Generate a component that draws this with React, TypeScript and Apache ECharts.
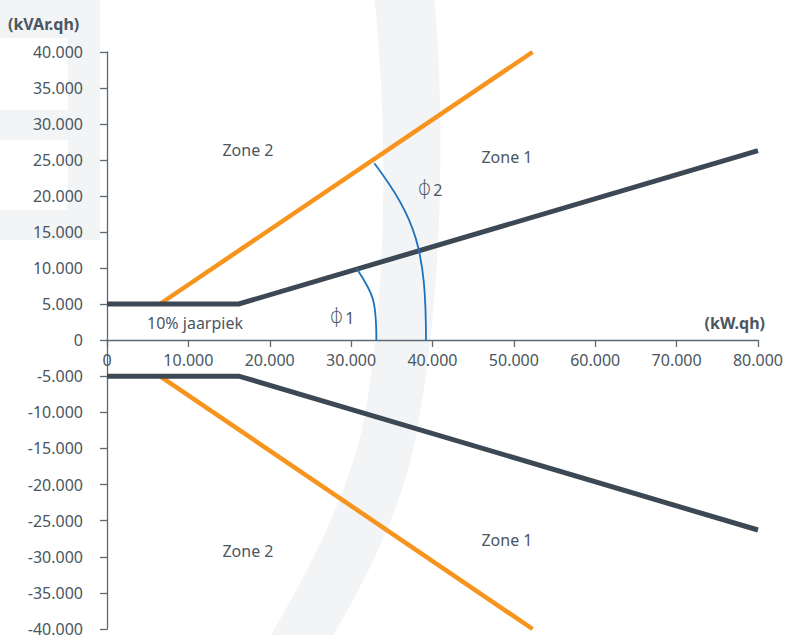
import React, { useEffect, useRef } from "react";
import * as echarts from "echarts";

// ---- data ----
const xTicks = { min: 0, max: 80000, interval: 10000 };
const yUpperTicks = { min: 0, max: 40000, interval: 5000 };
const yLowerTicks = { min: -40000, max: 0, interval: 5000 };

const grayUpperX = [0, 16200, 80000];
const grayUpperY = [5000, 5000, 26300];
const grayLowerX = [0, 16200, 80000];
const grayLowerY = [-5000, -5000, -26300];
const orangeUpperX = [6500, 52300];
const orangeUpperY = [5000, 40000];
const orangeLowerX = [6500, 52300];
const orangeLowerY = [-5000, -40000];

// angle arcs: start on x axis, end on the line (data coords)
const phi1Start = [33100, 0];
const phi1End = [30700, 9900];
const phi2Start = [39200, 0];
const phi2End = [32850, 24550];

const labelsText = {
  yName: "(kVAr.qh)",
  xName: "(kW.qh)",
  zone1: "Zone 1",
  zone2: "Zone 2",
  peak: "10% jaarpiek",
  phi: "\u03D5",
  one: "1",
  two: "2",
};

const zip = (xs: number[], ys: number[]) => xs.map((x, i) => [x, ys[i]]);

const fmt = (v: number) => {
  const s = Math.abs(v)
    .toString()
    .replace(/\B(?=(\d{3})+(?!\d))/g, ".");
  return (v < 0 ? "-" : "") + s;
};

const WATERMARK_D =
  "M374 -5 C388 120 388 300 362 430 C345 500 310 570 262 650 L325 650 C372 570 405 500 417 430 C442 300 446 120 434 -5 Z";

let registered = false;

export default function App() {
  const ref = useRef<HTMLDivElement>(null);

  useEffect(() => {
    document.body.style.margin = "0";
    if (!registered) {
      echarts.graphic.registerShape("logo", echarts.graphic.extendPath(WATERMARK_D, {}) as any);
      registered = true;
    }
    const chart = echarts.init(ref.current!, null, { renderer: "svg" });
    const textColor = "#4a5661";
    const axisColor = "#5d6973";
    const gray = "#3c4954";
    const orange = "#f7941d";
    const blue = "#1b72bd";
    const font = "'Noto Sans', 'Open Sans', sans-serif";
    const fs = 16;

    const lineSeries = (data: number[][], color: string, width: number, idx: number) => ({
      type: "line",
      data,
      xAxisIndex: idx,
      yAxisIndex: idx,
      symbol: "none",
      silent: true,
      clip: false,
      lineStyle: { color, width, cap: "butt", join: "miter" },
      z: 3,
    });

    const axisLine = { show: true, onZero: false, lineStyle: { color: axisColor, width: 1.3 } };
    const axisTick = { show: true, length: 7, lineStyle: { color: axisColor, width: 1.3 } };
    const yLabel = (showMax: boolean) => ({
      color: textColor,
      fontSize: fs,
      fontFamily: font,
      margin: 24,
      showMaxLabel: showMax,
      formatter: (v: number) => fmt(v),
    });

    chart.setOption({
      animation: false,
      backgroundColor: "#ffffff",
      grid: [
        { left: 107, right: 29, top: 52, bottom: 295, containLabel: false, outerBoundsMode: "none" },
        { left: 107, right: 29, top: 340, bottom: 6, containLabel: false, outerBoundsMode: "none" },
      ],
      xAxis: [
        {
          type: "value",
          gridIndex: 0,
          position: "bottom",
          min: xTicks.min,
          max: xTicks.max,
          interval: xTicks.interval,
          axisLine,
          axisTick,
          axisLabel: {
            color: textColor,
            fontSize: fs,
            fontFamily: font,
            margin: 12,
            formatter: (v: number) => fmt(v),
          },
          splitLine: { show: false },
        },
        {
          type: "value",
          gridIndex: 1,
          min: xTicks.min,
          max: xTicks.max,
          interval: xTicks.interval,
          show: false,
        },
      ],
      yAxis: [
        {
          type: "value",
          gridIndex: 0,
          min: yUpperTicks.min,
          max: yUpperTicks.max,
          interval: yUpperTicks.interval,
          axisLine,
          axisTick,
          axisLabel: yLabel(true),
          splitLine: { show: false },
        },
        {
          type: "value",
          gridIndex: 1,
          min: yLowerTicks.min,
          max: yLowerTicks.max,
          interval: yLowerTicks.interval,
          axisLine,
          axisTick,
          axisLabel: yLabel(false),
          splitLine: { show: false },
        },
      ],
      series: [
        lineSeries(zip(orangeUpperX, orangeUpperY), orange, 4.5, 0),
        lineSeries(zip(orangeLowerX, orangeLowerY), orange, 4.5, 1),
        lineSeries(zip(grayUpperX, grayUpperY), gray, 5, 0),
        lineSeries(zip(grayLowerX, grayLowerY), gray, 5, 1),
      ],
    });

    const px = (p: number[]) => chart.convertToPixel({ gridIndex: 0 }, p) as number[];
    const arc = (s: number[], e: number[], c1: number[], c2: number[]) => {
      const a = px(s);
      const b = px(e);
      return {
        type: "bezierCurve",
        z: 4,
        silent: true,
        shape: {
          x1: a[0],
          y1: a[1],
          cpx1: a[0] + c1[0],
          cpy1: a[1] + c1[1],
          cpx2: b[0] + c2[0],
          cpy2: b[1] + c2[1],
          x2: b[0],
          y2: b[1],
        },
        style: { stroke: blue, lineWidth: 1.8, fill: "none" },
      };
    };
    const txt = (text: string, x: number, y: number, bold = false, align = "center", rich?: any) => ({
      type: "text",
      x,
      y,
      z: 5,
      silent: true,
      style: {
        text,
        fill: textColor,
        font: `${bold ? "bold " : ""}${fs}px ${font}`,
        textAlign: align,
        textVerticalAlign: "middle",
        align,
        verticalAlign: "middle",
        rich,
      },
    });
    const phiRich = {
      p: { fontSize: 21, fontFamily: "'DejaVu Sans', sans-serif", fill: textColor, color: textColor, fontWeight: 200 },
      n: { fontSize: fs, fontFamily: font, fill: textColor, color: textColor, padding: [3, 0, 0, 2] },
    };

    const bg = "#f3f4f6";
    const rect = (x: number, y: number, w: number, h: number) => ({
      type: "rect",
      z: -100,
      silent: true,
      shape: { x, y, width: w, height: h },
      style: { fill: bg },
    });

    chart.setOption({
      graphic: [
        rect(0, 0, 100, 38),
        rect(68, 0, 32, 240),
        rect(0, 110, 100, 30),
        rect(0, 210, 100, 30),
        { type: "logo", x: 0, y: 0, scaleX: 1, scaleY: 1, z: -100, silent: true, style: { fill: bg } },
        arc(phi1Start, phi1End, [0, -40], [16.5, 25]),
        arc(phi2Start, phi2End, [0, -90], [42, 56]),
        txt(labelsText.yName, 8, 24, true, "left"),
        txt(labelsText.xName, 765, 323, true, "right"),
        txt(labelsText.zone2, 248, 150),
        txt(labelsText.zone1, 507, 157),
        txt(labelsText.zone2, 248, 551),
        txt(labelsText.zone1, 507, 540),
        txt(labelsText.peak, 195, 323),
        txt(`{p|${labelsText.phi}}{n|${labelsText.one}}`, 342, 316, false, "center", phiRich),
        txt(`{p|${labelsText.phi}}{n|${labelsText.two}}`, 430, 188, false, "center", phiRich),
      ],
    });

    return () => chart.dispose();
  }, []);

  return <div ref={ref} style={{ width: 787, height: 635 }} />;
}
